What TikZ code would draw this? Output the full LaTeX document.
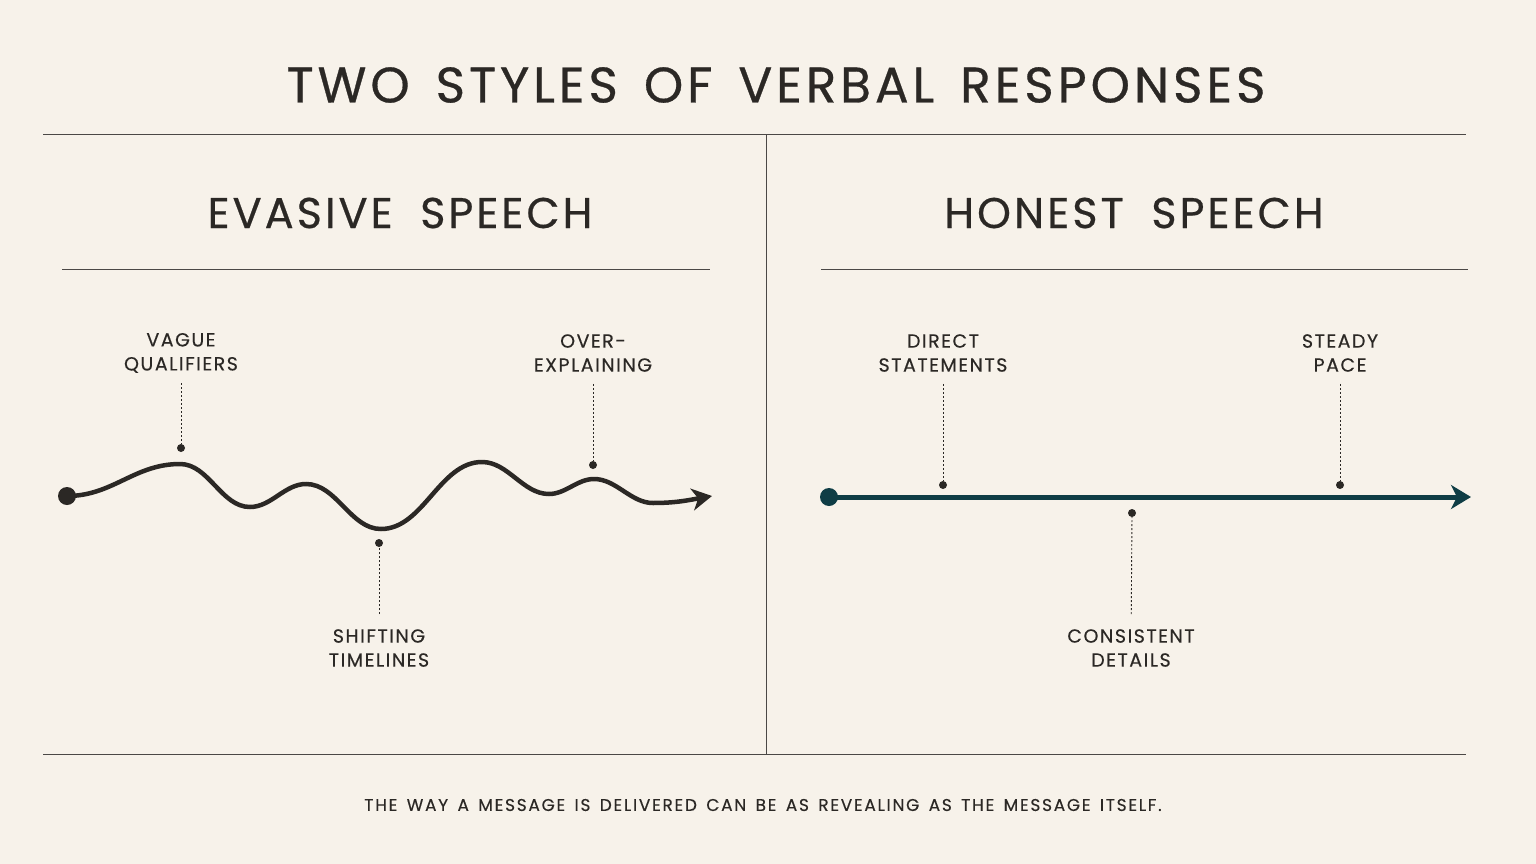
\documentclass[tikz,border=0pt]{standalone}
\usepackage{fontspec}
\setmainfont{Poppins}
\newfontfamily\titlefont[LetterSpace=8, WordSpace=1.5, FakeBold=0.6]{Poppins}
\newfontfamily\headfont[LetterSpace=7, WordSpace=1.9, FakeBold=0.5]{Poppins}
\newfontfamily\trackedfont[LetterSpace=8, FakeBold=0.3]{Poppins}
\newfontfamily\footfont[LetterSpace=10, WordSpace=1.5, FakeBold=0.3]{Poppins}
\usetikzlibrary{arrows.meta, positioning}

\definecolor{paper}{HTML}{F7F2EA}
\definecolor{ink}{HTML}{2B2825}
\definecolor{deepteal}{HTML}{0F3D45}

\tikzset{
  rule/.style={draw=ink!85, line width=1pt},
  heading/.style={font=\fontsize{43}{48}\selectfont\headfont, text=ink, inner sep=0pt},
  callout/.style={font=\fontsize{19}{24}\selectfont\trackedfont, text=ink, align=center, inner sep=0pt},
  pindot/.style={circle, fill=ink, inner sep=0pt, minimum size=8pt},
  startdot/.style={circle, inner sep=0pt, minimum size=18pt},
  leader/.style={ink, line width=0.9pt, dash pattern=on 2pt off 2pt},
}

\begin{document}
\begin{tikzpicture}[x=1pt, y=-1pt]

		% Tlo
		\fill[paper] (0,0) rectangle (1536,864);
		\useasboundingbox (0,0) rectangle (1536,864);

		% Tytul i linie podzialu
		\node[heading, font=\fontsize{50}{56}\selectfont\titlefont] (title) at (776,85) {TWO STYLES OF VERBAL RESPONSES};
		\draw[rule] (43,135) -- (1466,135);
		\draw[rule] (766,135) -- (766,754);
		\draw[rule] (43,754) -- (1466,754);

		% Naglowki kolumn
		\node[heading] (evasive) at (400,213) {EVASIVE SPEECH};
		\node[heading] (honest) at (1134,213) {HONEST SPEECH};
		\draw[rule] (62,269) -- (710,269);
		\draw[rule] (821,269) -- (1468,269);

		% Mowa wymijajaca - falista linia
		\node[startdot, fill=ink] (ev0) at (67,496) {};
		\coordinate (ev1) at (180,464);
		\coordinate (ev2) at (250,507);
		\coordinate (ev3) at (306,484);
		\coordinate (ev4) at (381,529);
		\coordinate (ev5) at (482,462);
		\coordinate (ev6) at (549,494);
		\coordinate (ev7) at (594,479);
		\coordinate (ev8) at (653,503);
		\coordinate (ev9) at (712,496);
		\draw[ink, line width=4.5pt, -{Stealth[length=20pt, width=22pt, inset=6pt]}]
			(ev0.center) to[out=0, in=180] (ev1) to[out=0, in=180, looseness=0.9] (ev2)
			to[out=0, in=180, looseness=0.9] (ev3) to[out=0, in=180, looseness=0.9] (ev4)
			to[out=0, in=180, looseness=0.9] (ev5) to[out=0, in=180, looseness=0.9] (ev6)
			to[out=0, in=180, looseness=0.9] (ev7) to[out=0, in=180, looseness=0.9] (ev8)
			to[out=0, in=190] (ev9);

		% Etykiety - mowa wymijajaca
		\node[callout] (vague) at (181,353) {VAGUE\\QUALIFIERS};
		\node[pindot] (vaguedot) at (181,448) {};
		\draw[leader, shorten <=10pt] (vague) -- (vaguedot);

		\node[callout] (over) at (593,353) {OVER-\\EXPLAINING};
		\node[pindot] (overdot) at (593,465) {};
		\draw[leader, shorten <=12pt] (over) -- (overdot);

		\node[callout] (shift) at (379,648) {SHIFTING\\TIMELINES};
		\node[pindot] (shiftdot) at (379,543) {};
		\draw[leader, shorten <=15pt] (shift) -- (shiftdot);

		% Mowa szczera - prosta linia
		\node[startdot, fill=deepteal] (ho0) at (829,497) {};
		\coordinate (ho1) at (1471,497);
		\draw[deepteal, line width=5pt, -{Stealth[length=20pt, width=24pt, inset=6pt]}] (ho0.center) -- (ho1);

		% Etykiety - mowa szczera
		\node[callout] (direct) at (943,353) {DIRECT\\STATEMENTS};
		\node[pindot] (directdot) at (943,485) {};
		\draw[leader, shorten <=12pt] (direct) -- (directdot);

		\node[callout] (steady) at (1340,353) {STEADY\\PACE};
		\node[pindot] (steadydot) at (1340,485) {};
		\draw[leader, shorten <=12pt] (steady) -- (steadydot);

		\node[callout] (consist) at (1131,648) {CONSISTENT\\DETAILS};
		\node[pindot] (consistdot) at (1132,513) {};
		\draw[leader, shorten <=15pt] (consist) -- (consistdot);

		% Stopka
		\node[callout, font=\fontsize{17}{20}\selectfont\footfont] (footer) at (763,805)
			{THE WAY A MESSAGE IS DELIVERED CAN BE AS REVEALING AS THE MESSAGE ITSELF.};

	\end{tikzpicture}
\end{document}
